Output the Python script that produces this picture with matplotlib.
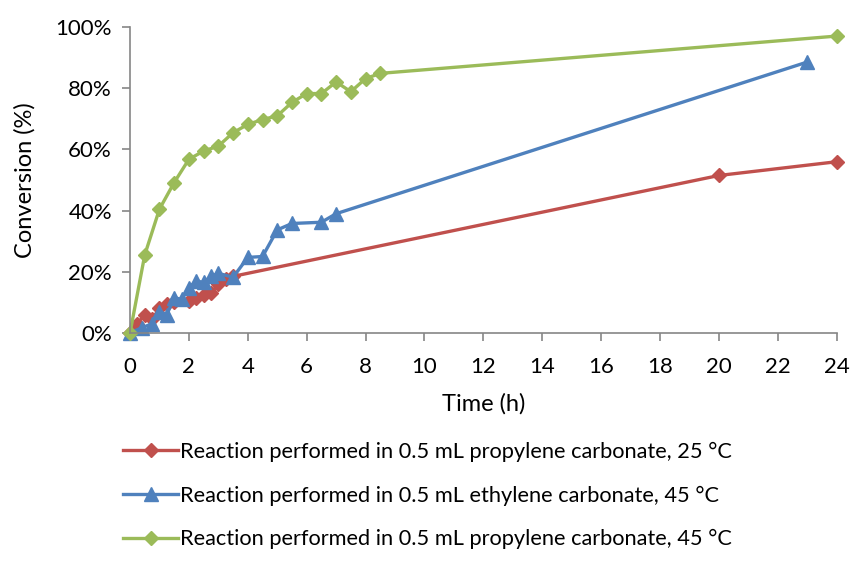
import matplotlib
matplotlib.use("Agg")
import matplotlib.pyplot as plt
from matplotlib.ticker import FuncFormatter

plt.rcParams['font.family'] = ['Lato', 'DejaVu Sans']

# Data
pc25_t = [0, 0.25, 0.5, 0.75, 1, 1.25, 1.5, 2, 2.25, 2.5, 2.75, 3, 3.25, 3.5, 20, 24]
pc25_y = [0, 3, 6, 4.5, 8, 9.5, 10, 10.5, 11.5, 12.5, 13, 16, 17.5, 18.5, 51.5, 56]

ec45_t = [0, 0.4, 0.75, 1, 1.25, 1.5, 1.75, 2, 2.25, 2.5, 2.75, 3, 3.5, 4, 4.5, 5, 5.5, 6.5, 7, 23]
ec45_y = [0, 1.7, 3, 7, 6, 11.5, 11, 14.8, 17, 16.5, 18.5, 19.5, 18.2, 24.7, 25, 33.7, 35.8, 36.2, 39, 88.6]

pc45_t = [0, 0.5, 1, 1.5, 2, 2.5, 3, 3.5, 4, 4.5, 5, 5.5, 6, 6.5, 7, 7.5, 8, 8.5, 24]
pc45_y = [0, 25.5, 40.5, 49.2, 56.8, 59.5, 61.1, 65.5, 68.2, 69.8, 71, 75.4, 78.3, 78.3, 82.1, 78.9, 83.2, 84.9, 97.1]

labels = ["Reaction performed in 0.5 mL propylene carbonate, 25 °C",
          "Reaction performed in 0.5 mL ethylene carbonate, 45 °C",
          "Reaction performed in 0.5 mL propylene carbonate, 45 °C"]

x_ticks = list(range(0, 25, 2))
y_ticks = [0, 20, 40, 60, 80, 100]

fig = plt.figure(figsize=(8.52, 5.79), dpi=100)
ax = fig.add_axes([0.1526, 0.425, 0.8294, 0.528])

l1, = ax.plot(pc25_t, pc25_y, color='#C0504D', lw=2.4, marker='D', ms=7, label=labels[0])
l2, = ax.plot(ec45_t, ec45_y, color='#4F81BD', lw=2.4, marker='^', ms=10, label=labels[1])
l3, = ax.plot(pc45_t, pc45_y, color='#9BBB59', lw=2.4, marker='D', ms=7, label=labels[2])

ax.set_xlim(0, 24)
ax.set_ylim(0, 100)
ax.set_xticks(x_ticks)
ax.set_yticks(y_ticks)
ax.yaxis.set_major_formatter(FuncFormatter(lambda v, p: f"{int(v)}%"))
for s in ['top', 'right']:
    ax.spines[s].set_visible(False)
for s in ['left', 'bottom']:
    ax.spines[s].set_color('#868686')
    ax.spines[s].set_linewidth(1.2)
ax.tick_params(axis='both', direction='out', length=6, width=1.2, color='#868686',
               labelsize=16, labelcolor='black')
ax.tick_params(axis='x', pad=11)
ax.tick_params(axis='y', pad=7)
ax.set_xlabel("Time (h)", fontsize=17, labelpad=12)
ax.set_ylabel("Conversion (%)", fontsize=17, labelpad=14)
for art in [l1, l2, l3]:
    art.set_clip_on(False)

leg = fig.legend(handles=[l1, l2, l3], loc='upper left', bbox_to_anchor=(0.134, 0.252),
                 frameon=False, fontsize=15.7, handlelength=2.55, handletextpad=0.05,
                 labelspacing=1.08, borderaxespad=0)

fig.savefig("out.png", dpi=100)
